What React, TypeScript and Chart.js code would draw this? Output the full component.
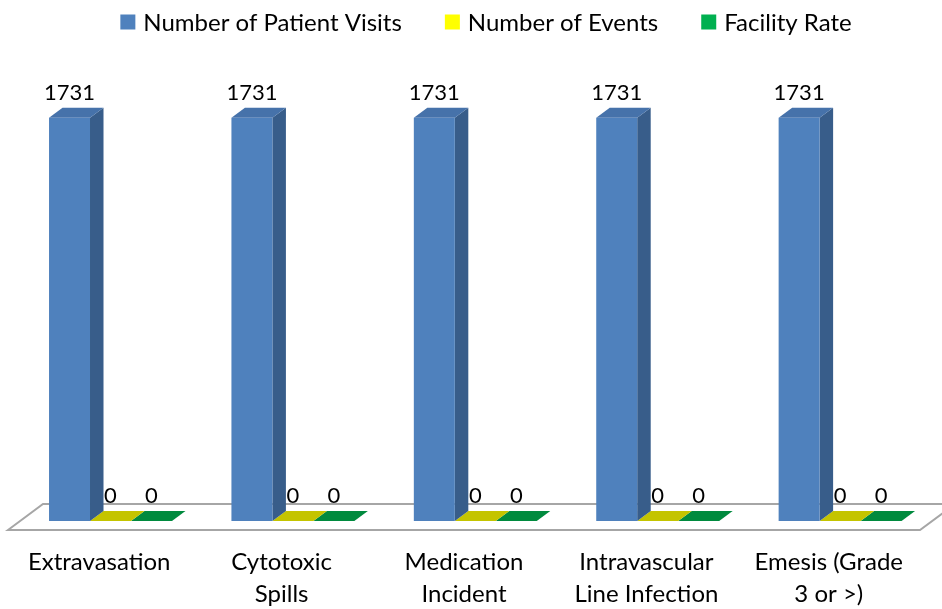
import React, { useEffect, useRef } from "react";
import { Chart, registerables } from "chart.js";

Chart.register(...registerables);

const categories: string[][] = [
  ["Extravasation"],
  ["Cytotoxic", "Spills"],
  ["Medication", "Incident"],
  ["Intravascular", "Line Infection"],
  ["Emesis (Grade", "3 or >)"],
];
const patientVisits = [1731, 1731, 1731, 1731, 1731];
const numberOfEvents = [0, 0, 0, 0, 0];
const facilityRate = [0, 0, 0, 0, 0];
const seriesNames = ["Number of Patient Visits", "Number of Events", "Facility Rate"];
const frontColors = ["#4F81BD", "#FFFF00", "#00B050"];
const topColors = ["#4672AA", "#C4C400", "#008A3E"];
const sideColors = ["#385D8A", "#A8A800", "#00702F"];
const yMax = 2000;

const FONT = "Lato, 'Open Sans', sans-serif";
const TEXT_SIZE = 24;
const VALUE_SIZE = 22;
const SHIFT_X = 11.3; // bar row depth offset into the floor
const DX = 13.5;
const DY = -10;

const threeD = {
  id: "threeD",
  beforeDatasetsDraw(chart: any) {
    const { ctx, chartArea } = chart;
    const base = chart.scales.y.getPixelForValue(0);
    const frontY = base + 9;
    const backY = base - 17;
    const skew = 35;
    ctx.save();
    ctx.beginPath();
    ctx.moveTo(chartArea.left, frontY);
    ctx.lineTo(chartArea.left + skew, backY);
    ctx.lineTo(chartArea.right + skew, backY);
    ctx.lineTo(chartArea.right, frontY);
    ctx.closePath();
    ctx.fillStyle = "#FFFFFF";
    ctx.fill();
    ctx.lineWidth = 2;
    ctx.strokeStyle = "#A6A6A6";
    ctx.stroke();
    ctx.restore();
    ctx.save();
    ctx.translate(SHIFT_X, 0);
  },
  beforeDatasetDraw(chart: any, args: any) {
    const { ctx } = chart;
    const i = args.index;
    args.meta.data.forEach((el: any) => {
      const { x, y, base, width } = el.getProps(["x", "y", "base", "width"], true);
      const l = x - width / 2;
      const r = x + width / 2;
      ctx.beginPath();
      ctx.moveTo(r, y);
      ctx.lineTo(r + DX, y + DY);
      ctx.lineTo(r + DX, base + DY);
      ctx.lineTo(r, base);
      ctx.closePath();
      ctx.fillStyle = sideColors[i];
      ctx.fill();
      ctx.beginPath();
      ctx.moveTo(l, y);
      ctx.lineTo(r, y);
      ctx.lineTo(r + DX, y + DY);
      ctx.lineTo(l + DX, y + DY);
      ctx.closePath();
      ctx.fillStyle = topColors[i];
      ctx.fill();
    });
  },
  afterDatasetsDraw(chart: any) {
    const { ctx } = chart;
    ctx.font = `${VALUE_SIZE}px ${FONT}`;
    ctx.fillStyle = "#000000";
    ctx.textAlign = "center";
    ctx.textBaseline = "middle";
    chart.data.datasets.forEach((ds: any, i: number) => {
      const meta = chart.getDatasetMeta(i);
      meta.data.forEach((el: any, j: number) => {
        ctx.fillText(String(ds.data[j]), el.x, el.y - 25);
      });
    });
    ctx.restore();
  },
  afterDraw(chart: any) {
    const { ctx } = chart;
    ctx.save();
    ctx.font = `${TEXT_SIZE}px ${FONT}`;
    ctx.textBaseline = "middle";
    ctx.textAlign = "left";
    const box = 15;
    const gapText = 8;
    const gapItem = 43;
    const ds = chart.data.datasets;
    const widths = ds.map((d: any) => box + gapText + ctx.measureText(d.label).width);
    const total = widths.reduce((a: number, b: number) => a + b, 0) + gapItem * (ds.length - 1);
    let x = 486 - total / 2;
    const cy = 22;
    ds.forEach((d: any, i: number) => {
      ctx.fillStyle = d.backgroundColor;
      ctx.fillRect(x, cy - box / 2, box, box);
      ctx.fillStyle = "#000000";
      ctx.fillText(d.label, x + box + gapText, cy + 1);
      x += widths[i] + gapItem;
    });
    ctx.restore();
  },
};

export default function App() {
  const ref = useRef<HTMLCanvasElement>(null);
  useEffect(() => {
    if (!ref.current) return;
    const series = [patientVisits, numberOfEvents, facilityRate];
    const chart = new Chart(ref.current, {
      type: "bar",
      data: {
        labels: categories,
        datasets: series.map((d, i) => ({
          label: seriesNames[i],
          data: d,
          backgroundColor: frontColors[i],
          borderWidth: 0,
          categoryPercentage: 0.674,
          barPercentage: 1,
          clip: false as any,
        })),
      },
      options: {
        animation: false,
        responsive: false,
        maintainAspectRatio: false,
        layout: { padding: { top: 55, left: 8, right: 22, bottom: 0 } },
        scales: {
          x: {
            grid: { display: false, drawTicks: false },
            border: { display: false },
            ticks: {
              color: "#000000",
              font: { family: FONT, size: TEXT_SIZE, lineHeight: 1.3 },
              padding: 26,
              maxRotation: 0,
              autoSkip: false,
            },
            afterFit: (s: any) => {
              s.height = 88;
            },
          },
          y: { display: false, min: 0, max: yMax },
        },
        plugins: {
          legend: { display: false },
          tooltip: { enabled: false },
        },
      },
      plugins: [threeD],
    });
    return () => chart.destroy();
  }, []);
  return (
    <div style={{ position: "fixed", left: 0, top: 0, width: 942, height: 609, background: "#fff" }}>
      <canvas ref={ref} width={942} height={609} style={{ width: 942, height: 609 }} />
    </div>
  );
}
